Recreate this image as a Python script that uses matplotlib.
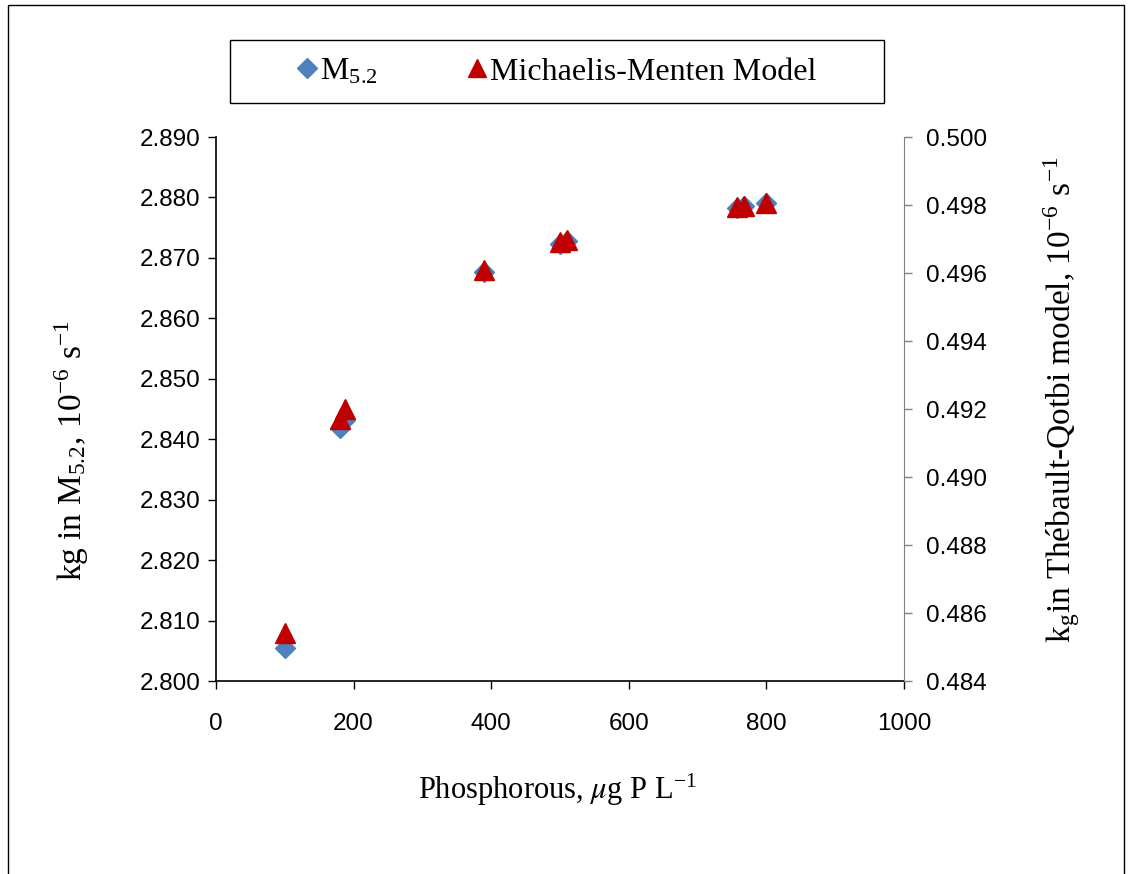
import numpy as np
import matplotlib
matplotlib.use('Agg')
import matplotlib.pyplot as plt
from matplotlib.patches import Rectangle
from matplotlib.lines import Line2D

# data
phos = [100, 180, 187, 390, 500, 510, 757, 768, 800]
kg_m52 = [2.8055, 2.8418, 2.8432, 2.8677, 2.8723, 2.8728, 2.8783, 2.8786, 2.8790]
kg_mm = [0.48541, 0.49172, 0.49200, 0.49610, 0.49690, 0.49698, 0.49794, 0.49796, 0.49806]

left_ticks = [2.800, 2.810, 2.820, 2.830, 2.840, 2.850, 2.860, 2.870, 2.880, 2.890]
right_ticks = [0.484, 0.486, 0.488, 0.490, 0.492, 0.494, 0.496, 0.498, 0.500]
x_ticks = [0, 200, 400, 600, 800, 1000]

plt.rcParams['font.family'] = ['Liberation Serif', 'DejaVu Serif']
plt.rcParams['mathtext.fontset'] = 'stix'

W, H = 1128, 874
fig = plt.figure(figsize=(W/100., H/100.), dpi=100)
fig.patch.set_facecolor('white')

# outer frame (bottom edge cut off in the original)
fig.patches.append(Rectangle((8/W, -0.01), (1124-8)/W, (874-5)/H + 0.01,
                             transform=fig.transFigure, fill=False,
                             edgecolor='black', linewidth=1.0))

ax = fig.add_axes([216/W, (874-681)/H, (904-216)/W, (681-137)/H])
ax2 = ax.twinx()

blue = '#4F81BD'
red = '#C00000'

ax.plot(phos, kg_m52, linestyle='none', marker='D', markersize=10,
        color=blue, markeredgecolor=blue, zorder=3)
ax2.plot(phos, kg_mm, linestyle='none', marker='^', markersize=14,
         color=red, markeredgecolor=red, zorder=4)

ax.set_xlim(0, 1000)
ax.set_ylim(2.800, 2.890)
ax2.set_ylim(0.484, 0.500)
ax.set_xticks(x_ticks)
ax.set_yticks(left_ticks)
ax2.set_yticks(right_ticks)
ax.set_yticklabels(['%.3f' % v for v in left_ticks])
ax2.set_yticklabels(['%.3f' % v for v in right_ticks])

for lab in ax.get_xticklabels() + ax.get_yticklabels() + ax2.get_yticklabels():
    lab.set_fontfamily('Liberation Sans')
    lab.set_fontsize(17.5)

ax.tick_params(axis='y', direction='out', length=6, width=1, pad=5, colors='black')
ax.tick_params(axis='x', direction='out', length=6, width=1, pad=17)
ax2.tick_params(axis='y', direction='out', length=6, width=1, pad=10,
                color='#808080', labelcolor='black')

for a in (ax, ax2):
    a.spines['top'].set_visible(False)
ax.spines['right'].set_visible(False)
ax2.spines['left'].set_visible(False)
ax2.spines['bottom'].set_visible(False)
ax2.spines['right'].set_color('#808080')
ax.spines['left'].set_linewidth(1.2)
ax.spines['bottom'].set_linewidth(1.2)

# axis titles placed where the original has them
fig.text(557/W, 1 - 790/H, r'Phosphorous, $\mu$g P L$^{\mathregular{-1}}$',
         fontsize=22, ha='center', va='center')
fig.text(72/W, 1 - 450/H,
         r'kg in M$_{\mathregular{5.2}}$, 10$^{\mathregular{-6}}$ s$^{\mathregular{-1}}$',
         fontsize=24, ha='center', va='center', rotation=90)
fig.text(1062/W, 1 - 400/H,
         r'k$_{\mathregular{g}}$in Thébault-Qotbi model, 10$^{\mathregular{-6}}$ s$^{\mathregular{-1}}$',
         fontsize=24, ha='center', va='center', rotation=90)

# legend box
fig.patches.append(Rectangle((230/W, (874-103)/H), (884-230)/W, (103-40)/H,
                             transform=fig.transFigure, fill=False,
                             edgecolor='black', linewidth=1.0))
handles = [Line2D([], [], linestyle='none', marker='D', markersize=10, color=blue),
           Line2D([], [], linestyle='none', marker='^', markersize=13, color=red)]
fig.legend(handles, [r'M$_{\mathregular{5.2}}$', 'Michaelis-Menten Model'],
           loc='center', bbox_to_anchor=(557/W, (874-72)/H), ncol=2,
           frameon=False, fontsize=23, handlelength=0.6, handletextpad=0.1,
           columnspacing=2.8)

fig.savefig('out.png', dpi=100, facecolor='white')
